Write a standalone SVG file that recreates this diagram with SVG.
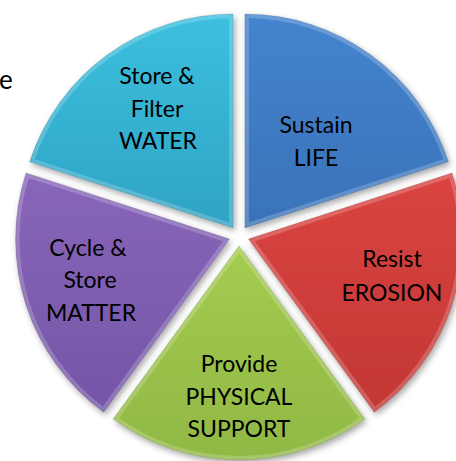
<svg xmlns="http://www.w3.org/2000/svg" xmlns:xlink="http://www.w3.org/1999/xlink" width="456" height="461" viewBox="0 0 456 461">
  <style>
    .lbl { font-family: Lato, "Liberation Sans", "DejaVu Sans", sans-serif; font-size: 23px; fill: #000; text-anchor: middle; }
    .bevel { fill: none; stroke: #ffffff; stroke-opacity: 0.2; stroke-width: 8; }
    .edge { fill: none; stroke: #000; stroke-opacity: 0.12; stroke-width: 1; }
  </style>
  <defs>
    <filter id="sh" x="-10%" y="-10%" width="125%" height="125%">
      <feDropShadow dx="2" dy="3" stdDeviation="3" flood-color="#000" flood-opacity="0.35"/>
    </filter>
    <linearGradient id="g-cyan" x1="0" y1="0" x2="0" y2="1">
      <stop offset="0" stop-color="#3CC0E0"/><stop offset="1" stop-color="#2FA3C3"/>
    </linearGradient>
    <linearGradient id="g-blue" x1="0" y1="0" x2="0" y2="1">
      <stop offset="0" stop-color="#4484CF"/><stop offset="1" stop-color="#3A72B9"/>
    </linearGradient>
    <linearGradient id="g-red" x1="0" y1="0" x2="0" y2="1">
      <stop offset="0" stop-color="#DA4440"/><stop offset="1" stop-color="#C23735"/>
    </linearGradient>
    <linearGradient id="g-green" x1="0" y1="0" x2="0" y2="1">
      <stop offset="0" stop-color="#A4CC50"/><stop offset="1" stop-color="#90B844"/>
    </linearGradient>
    <linearGradient id="g-purple" x1="0" y1="0" x2="0" y2="1">
      <stop offset="0" stop-color="#8866BA"/><stop offset="1" stop-color="#7455A6"/>
    </linearGradient>
    <path id="p-cyan" d="M233.1 227.9 L29.6 161.8 A214 214 0 0 1 233.1 13.9 Z"/>
    <path id="p-blue" d="M244.9 227.9 L244.9 13.9 A214 214 0 0 1 448.4 161.8 Z"/>
    <path id="p-red" d="M248.5 239.1 L452 173 A214 214 0 0 1 374.3 412.2 Z"/>
    <path id="p-green" d="M239 246 L364.8 419.1 A214 214 0 0 1 113.2 419.1 Z"/>
    <path id="p-purple" d="M229.5 239.1 L103.7 412.2 A214 214 0 0 1 26 173 Z"/>
    <clipPath id="c-cyan"><use xlink:href="#p-cyan"/></clipPath>
    <clipPath id="c-blue"><use xlink:href="#p-blue"/></clipPath>
    <clipPath id="c-red"><use xlink:href="#p-red"/></clipPath>
    <clipPath id="c-green"><use xlink:href="#p-green"/></clipPath>
    <clipPath id="c-purple"><use xlink:href="#p-purple"/></clipPath>
  </defs>

  <rect width="456" height="461" fill="#ffffff"/>

  <text x="-1" y="89" style="font-family: Lato, 'Liberation Sans', sans-serif; font-size: 26px; fill:#000;">e</text>

  <g id="water">
    <use xlink:href="#p-cyan" fill="url(#g-cyan)" filter="url(#sh)"/>
    <use xlink:href="#p-cyan" class="bevel" clip-path="url(#c-cyan)"/>
    <use xlink:href="#p-cyan" class="edge"/>
    <text class="lbl" x="157" y="84">Store &amp;</text>
    <text class="lbl" x="157" y="117">Filter</text>
    <text class="lbl" x="158" y="149">WATER</text>
  </g>

  <g id="life">
    <use xlink:href="#p-blue" fill="url(#g-blue)" filter="url(#sh)"/>
    <use xlink:href="#p-blue" class="bevel" clip-path="url(#c-blue)"/>
    <use xlink:href="#p-blue" class="edge"/>
    <text class="lbl" x="316" y="133">Sustain</text>
    <text class="lbl" x="316" y="166">LIFE</text>
  </g>

  <g id="erosion">
    <use xlink:href="#p-red" fill="url(#g-red)" filter="url(#sh)"/>
    <use xlink:href="#p-red" class="bevel" clip-path="url(#c-red)"/>
    <use xlink:href="#p-red" class="edge"/>
    <text class="lbl" x="392" y="267">Resist</text>
    <text class="lbl" x="392" y="301">EROSION</text>
  </g>

  <g id="support">
    <use xlink:href="#p-green" fill="url(#g-green)" filter="url(#sh)"/>
    <use xlink:href="#p-green" class="bevel" clip-path="url(#c-green)"/>
    <use xlink:href="#p-green" class="edge"/>
    <text class="lbl" x="239" y="372">Provide</text>
    <text class="lbl" x="239" y="405">PHYSICAL</text>
    <text class="lbl" x="239" y="437">SUPPORT</text>
  </g>

  <g id="matter">
    <use xlink:href="#p-purple" fill="url(#g-purple)" filter="url(#sh)"/>
    <use xlink:href="#p-purple" class="bevel" clip-path="url(#c-purple)"/>
    <use xlink:href="#p-purple" class="edge"/>
    <text class="lbl" x="88" y="256">Cycle &amp;</text>
    <text class="lbl" x="90" y="288">Store</text>
    <text class="lbl" x="91" y="321">MATTER</text>
  </g>

  <g id="connectors"/>
</svg>
